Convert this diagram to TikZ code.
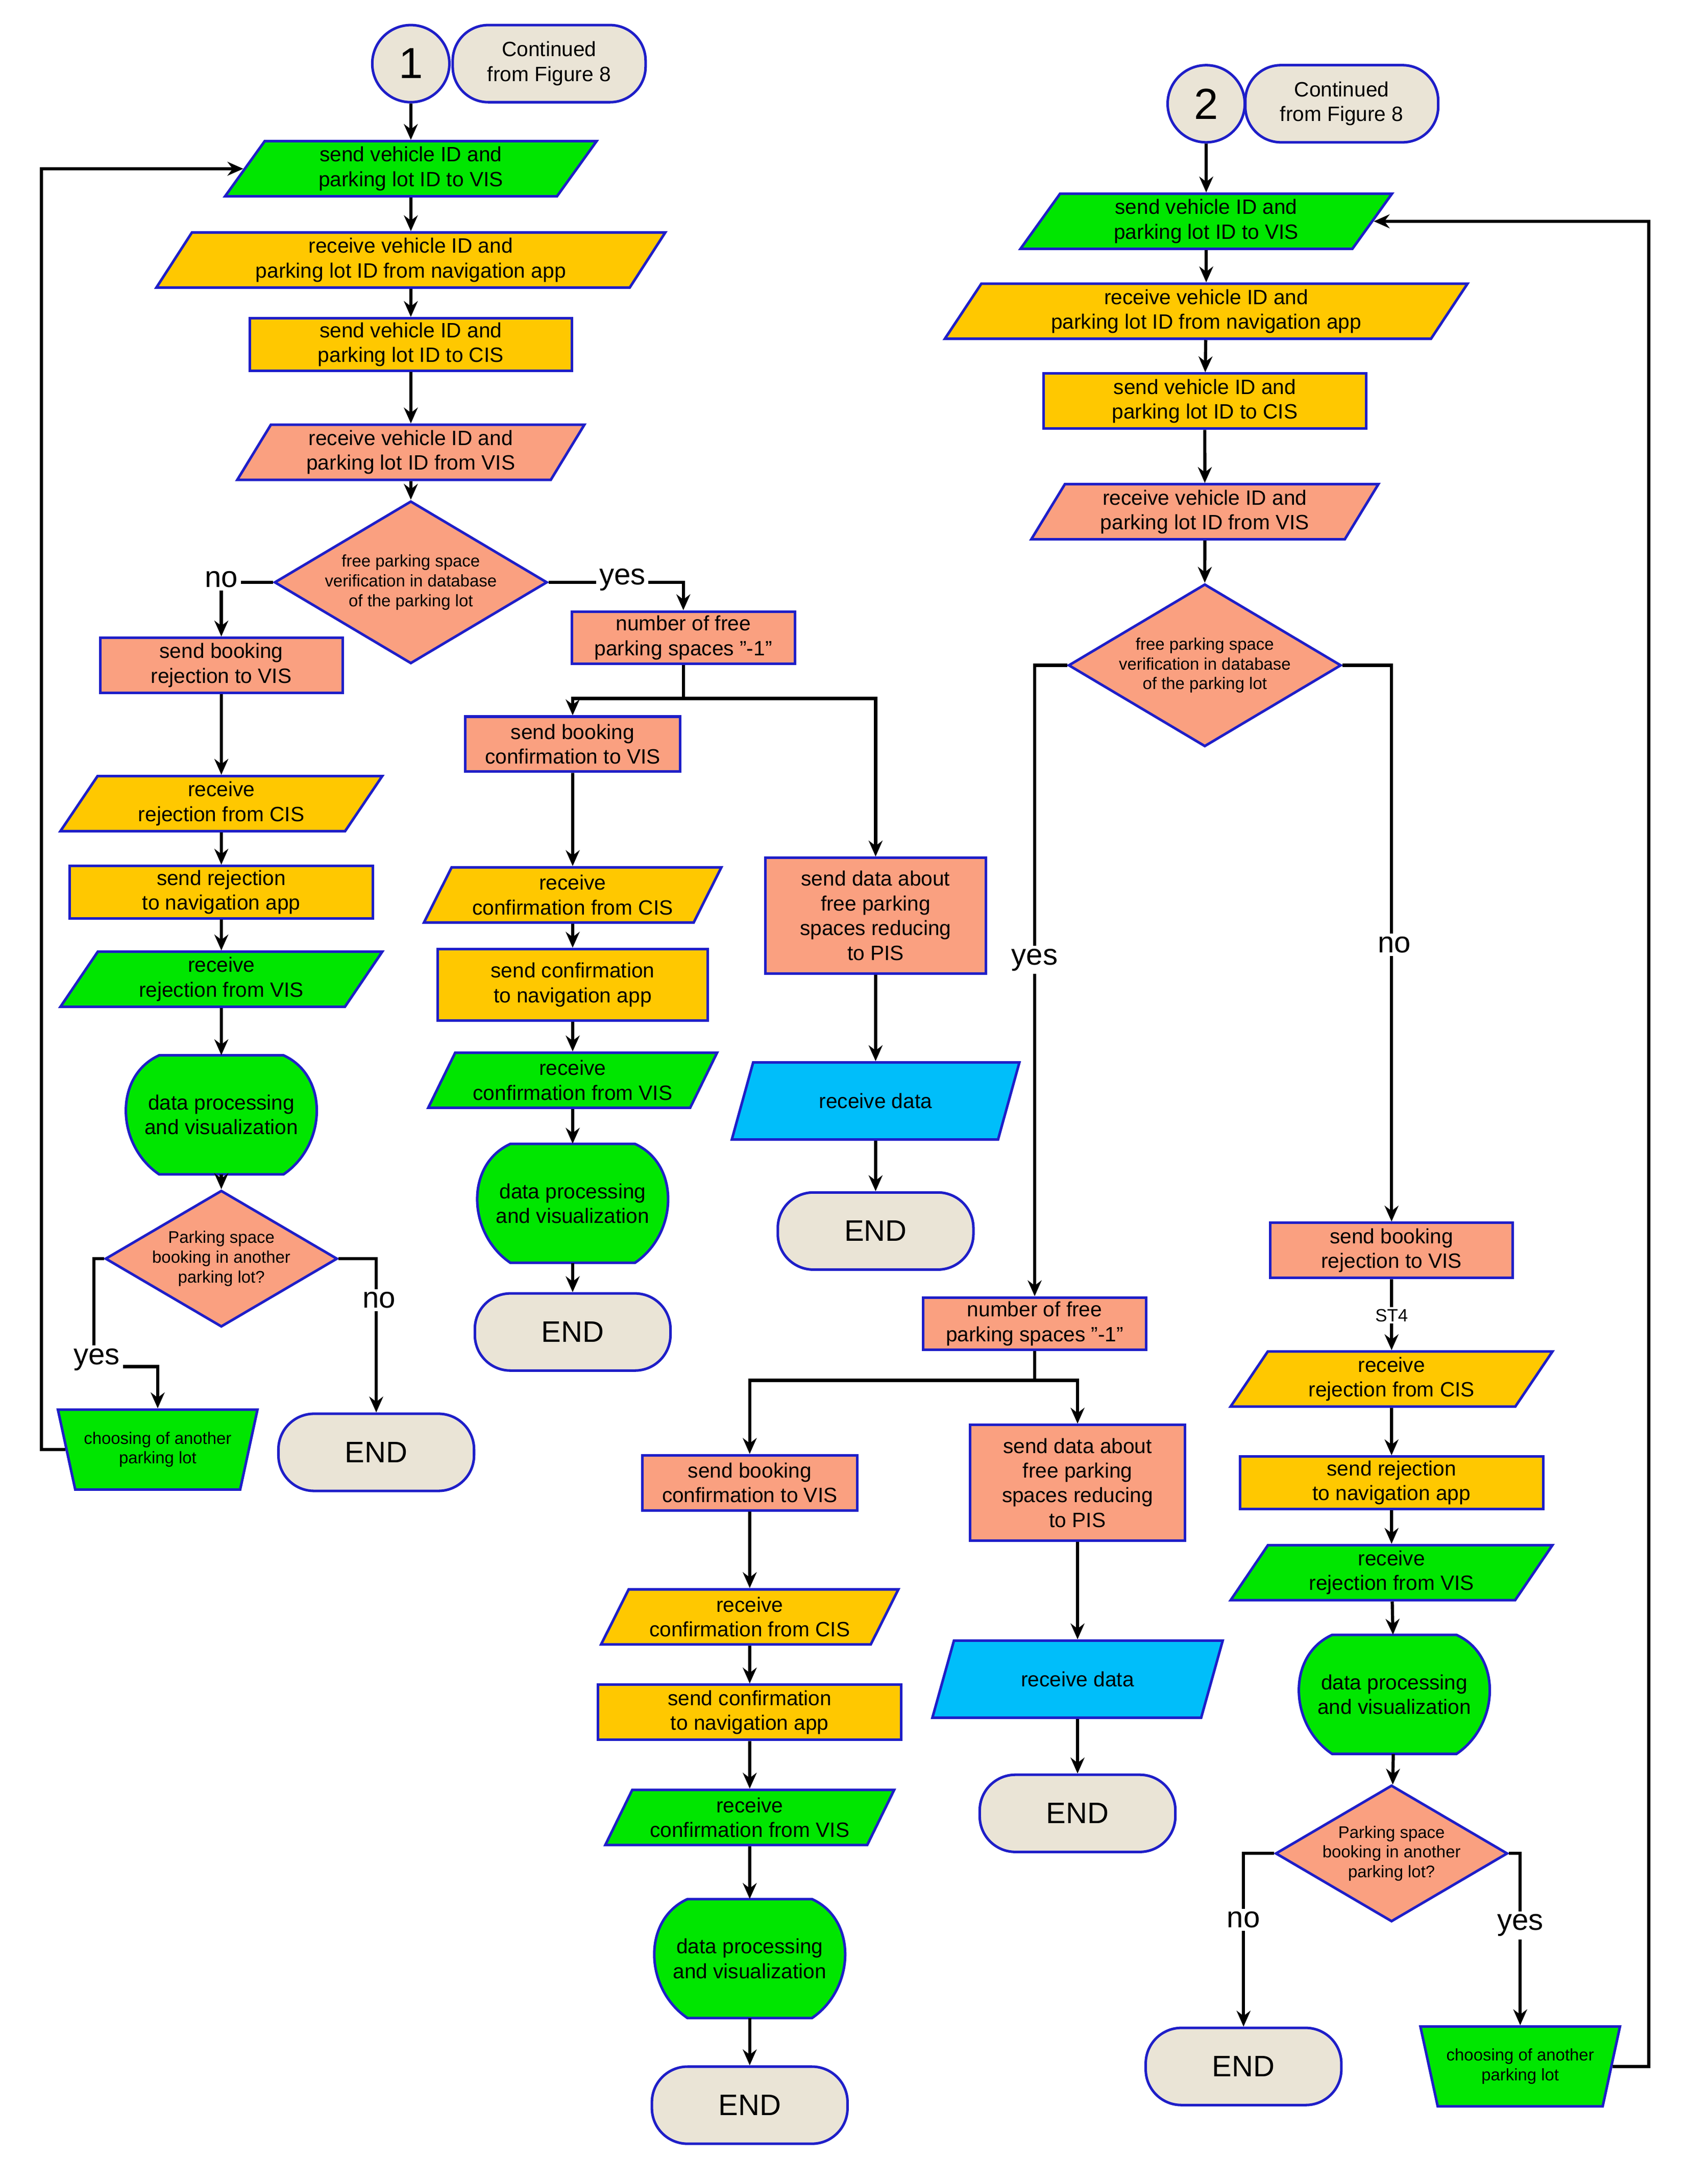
\documentclass[tikz,border=0pt]{standalone}
\usepackage{fontspec}
\setmainfont{Liberation Sans}
\usetikzlibrary{shapes.geometric,arrows.meta}
\definecolor{gr}{RGB}{0,230,0}
\definecolor{ye}{RGB}{255,200,0}
\definecolor{sa}{RGB}{250,160,128}
\definecolor{bl}{RGB}{0,190,250}
\definecolor{be}{RGB}{234,228,214}
\definecolor{bd}{RGB}{30,30,200}
\tikzset{
 base/.style={draw=bd,line width=1.3pt,align=center,inner sep=1pt,font=\fontsize{10.5}{12.5}\selectfont},
 rect/.style n args={3}{base,rectangle,fill=#1,minimum width=#2*0.697pt,minimum height=#3*0.697pt},
 para/.style n args={3}{base,trapezium,trapezium left angle=62,trapezium right angle=118,trapezium stretches=true,fill=#1,minimum width=#2*0.697pt,minimum height=#3*0.697pt},
 dia/.style n args={2}{base,diamond,fill=sa,minimum width=#1*0.697pt,minimum height=#2*0.697pt,aspect=1.7,inner sep=0pt,font=\fontsize{8.5}{10}\selectfont},
 man/.style={base,trapezium,trapezium left angle=68,trapezium right angle=68,trapezium stretches=true,shape border rotate=180,fill=gr,minimum width=146*0.697pt,minimum height=58*0.697pt,font=\fontsize{8.5}{10}\selectfont},
 term/.style={base,rectangle,rounded corners=18pt,fill=be,minimum width=142*0.697pt,minimum height=56*0.697pt,font=\fontsize{15}{17}\selectfont},
 pill/.style={base,rectangle,rounded corners=18pt,fill=be,minimum width=140*0.697pt,minimum height=56*0.697pt},
 circ/.style={base,circle,fill=be,minimum size=56*0.697pt,font=\fontsize{22}{24}\selectfont},
 dpt/.style={align=center,inner sep=0pt,minimum width=140*0.697pt,minimum height=86*0.697pt,font=\fontsize{10.5}{12.5}\selectfont},
 dpf/.style={fill=gr,draw=bd,line width=1.3pt},
 arr/.style={line width=1.6pt,-{Stealth[length=8pt,width=7pt]}},
 ln/.style={line width=1.6pt},
 lbl/.style={fill=white,inner sep=1.5pt,font=\fontsize{15}{17}\selectfont},
}
\newcommand{\dproc}[4]{%
 \path[dpf] (#2-45,#3-43) -- (#2+45,#3-43) .. controls (#2+78,#3-28) and (#2+76,#3+22) .. (#2+45,#3+43) -- (#2-45,#3+43) .. controls (#2-76,#3+22) and (#2-78,#3-28) .. cycle;
 \node[dpt] (#1) at (#2,#3) {#4};}
\begin{document}
\begin{tikzpicture}[x=0.0246cm,y=-0.0246cm]
\useasboundingbox (0,0) rectangle (1220,1579);
% ---------- left ----------
\node[pill] (c1) at (397,46) {Continued\\from Figure 8};
\node[circ] (n1) at (297,46) {1};
\node[para={gr}{270}{40}] (a1) at (297,122) {send vehicle ID and\\parking lot ID to VIS};
\node[para={ye}{370}{40}] (a2) at (297,188) {receive vehicle ID and\\parking lot ID from navigation app};
\node[rect={ye}{234}{38}] (a3) at (297,249) {send vehicle ID and\\parking lot ID to CIS};
\node[para={sa}{252}{40}] (a4) at (297,327) {receive vehicle ID and\\parking lot ID from VIS};
\node[dia={198}{118}] (d1) at (297,421) {free parking space\\verification in database\\of the parking lot};
\node[rect={sa}{176}{40}] (r1) at (160,481) {send booking\\rejection to VIS};
\node[para={ye}{234}{40}] (r2) at (160,581) {receive\\rejection from CIS};
\node[rect={ye}{220}{38}] (r3) at (160,645) {send rejection\\to navigation app};
\node[para={gr}{234}{40}] (r4) at (160,708) {receive\\rejection from VIS};
\dproc{r5}{160}{806}{data processing\\and visualization}
\node[dia={158}{94}] (d2) at (160,910) {Parking space\\booking in another\\parking lot?};
\node[man] (t1) at (114,1048) {choosing of another\\parking lot};
\node[term] (e1) at (272,1050) {END};
\node[rect={sa}{162}{38}] (m0) at (494,461) {number of free\\parking spaces "-1"};
\node[rect={sa}{156}{40}] (m1) at (414,538) {send booking\\confirmation to VIS};
\node[para={ye}{216}{40}] (m2) at (414,647) {receive\\confirmation from CIS};
\node[rect={ye}{196}{52}] (m3) at (414,712) {send confirmation\\to navigation app};
\node[para={gr}{210}{40}] (m4) at (414,781) {receive\\confirmation from VIS};
\dproc{m5}{414}{870}{data processing\\and visualization}
\node[term] (e2) at (414,963) {END};
\node[rect={sa}{160}{84}] (p1) at (633,662) {send data about\\free parking\\spaces reducing\\to PIS};
\node[para={bl}{210}{56}] (p2) at (633,796) {receive data};
\node[term] (e3) at (633,890) {END};
\coordinate (s1) at (494,505);
\coordinate (lp1) at (30,1048);
\coordinate (lp2) at (30,122);
\draw[arr] (n1) -- (a1);
\draw[arr] (a1) -- (a2);
\draw[arr] (a2) -- (a3);
\draw[arr] (a3) -- (a4);
\draw[arr] (a4) -- (d1);
\draw[arr] (d1.west) -| (r1.north);
\node[lbl] at (160,419) {no};
\draw[arr] (d1.east) -| (m0.north);
\node[lbl] at (450,419) {yes};
\draw[arr] (r1) -- (r2);
\draw[arr] (r2) -- (r3);
\draw[arr] (r3) -- (r4);
\draw[arr] (r4) -- (r5);
\draw[arr] (r5) -- (d2);
\draw[arr] (d2.west) -- (68,910) -- (68,988) -| (t1.north);
\node[lbl] at (70,983) {yes};
\draw[arr] (d2.east) -| (e1.north);
\node[lbl] at (274,940) {no};
\draw[arr] (t1.180) -- (lp1) -- (lp2) -- (a1.180);
\draw[ln] (m0) -- (s1);
\draw[arr] (s1) -| (m1.north);
\draw[arr] (s1) -| (p1.north);
\draw[arr] (m1) -- (m2);
\draw[arr] (m2) -- (m3);
\draw[arr] (m3) -- (m4);
\draw[arr] (m4) -- (m5);
\draw[arr] (m5) -- (e2);
\draw[arr] (p1) -- (p2);
\draw[arr] (p2) -- (e3);
% ---------- right ----------
\node[pill] (c2) at (970,75) {Continued\\from Figure 8};
\node[circ] (n2) at (872,75) {2};
\node[para={gr}{270}{40}] (b1) at (872,160) {send vehicle ID and\\parking lot ID to VIS};
\node[para={ye}{380}{40}] (b2) at (872,225) {receive vehicle ID and\\parking lot ID from navigation app};
\node[rect={ye}{234}{40}] (b3) at (871,290) {send vehicle ID and\\parking lot ID to CIS};
\node[para={sa}{252}{40}] (b4) at (871,370) {receive vehicle ID and\\parking lot ID from VIS};
\node[dia={198}{118}] (d3) at (871,481) {free parking space\\verification in database\\of the parking lot};
\node[rect={sa}{162}{38}] (q0) at (748,957) {number of free\\parking spaces "-1"};
\node[rect={sa}{156}{40}] (q1) at (542,1072) {send booking\\confirmation to VIS};
\node[para={ye}{216}{40}] (q2) at (542,1169) {receive\\confirmation from CIS};
\node[rect={ye}{220}{40}] (q3) at (542,1238) {send confirmation\\to navigation app};
\node[para={gr}{210}{40}] (q4) at (542,1314) {receive\\confirmation from VIS};
\dproc{q5}{542}{1416}{data processing\\and visualization}
\node[term] (e4) at (542,1522) {END};
\node[rect={sa}{156}{84}] (u1) at (779,1072) {send data about\\free parking\\spaces reducing\\to PIS};
\node[para={bl}{212}{56}] (u2) at (779,1214) {receive data};
\node[term] (e5) at (779,1311) {END};
\node[rect={sa}{176}{40}] (v1) at (1006,904) {send booking\\rejection to VIS};
\node[para={ye}{234}{40}] (v2) at (1006,997) {receive\\rejection from CIS};
\node[rect={ye}{220}{38}] (v3) at (1006,1072) {send rejection\\to navigation app};
\node[para={gr}{234}{40}] (v4) at (1006,1137) {receive\\rejection from VIS};
\dproc{v5}{1008}{1225}{data processing\\and visualization}
\node[dia={158}{94}] (d4) at (1006,1340) {Parking space\\booking in another\\parking lot?};
\node[term] (e6) at (899,1494) {END};
\node[man] (t2) at (1099,1494) {choosing of another\\parking lot};
\coordinate (s2) at (748,998);
\coordinate (lp3) at (1192,1494);
\coordinate (lp4) at (1192,160);
\draw[arr] (n2) -- (b1);
\draw[arr] (b1) -- (b2);
\draw[arr] (b2) -- (b3);
\draw[arr] (b3) -- (b4);
\draw[arr] (b4) -- (d3);
\draw[arr] (d3.west) -| (q0.north);
\node[lbl] at (748,694) {yes};
\draw[arr] (d3.east) -| (v1.north);
\node[lbl] at (1008,683) {no};
\draw[ln] (q0) -- (s2);
\draw[arr] (s2) -| (q1.north);
\draw[arr] (s2) -| (u1.north);
\draw[arr] (q1) -- (q2);
\draw[arr] (q2) -- (q3);
\draw[arr] (q3) -- (q4);
\draw[arr] (q4) -- (q5);
\draw[arr] (q5) -- (e4);
\draw[arr] (u1) -- (u2);
\draw[arr] (u2) -- (e5);
\draw[arr] (v1) -- (v2);
\node[fill=white,inner sep=1pt,font=\fontsize{9}{10}\selectfont] at (1006,951) {ST4};
\draw[arr] (v2) -- (v3);
\draw[arr] (v3) -- (v4);
\draw[arr] (v4) -- (v5);
\draw[arr] (v5) -- (d4);
\draw[arr] (d4.west) -| (e6.north);
\node[lbl] at (899,1388) {no};
\draw[arr] (d4.east) -| (t2.north);
\node[lbl] at (1099,1392) {yes};
\draw[arr] (t2.0) -- (lp3) -- (lp4) -- (b1.0);
\end{tikzpicture}
\end{document}
